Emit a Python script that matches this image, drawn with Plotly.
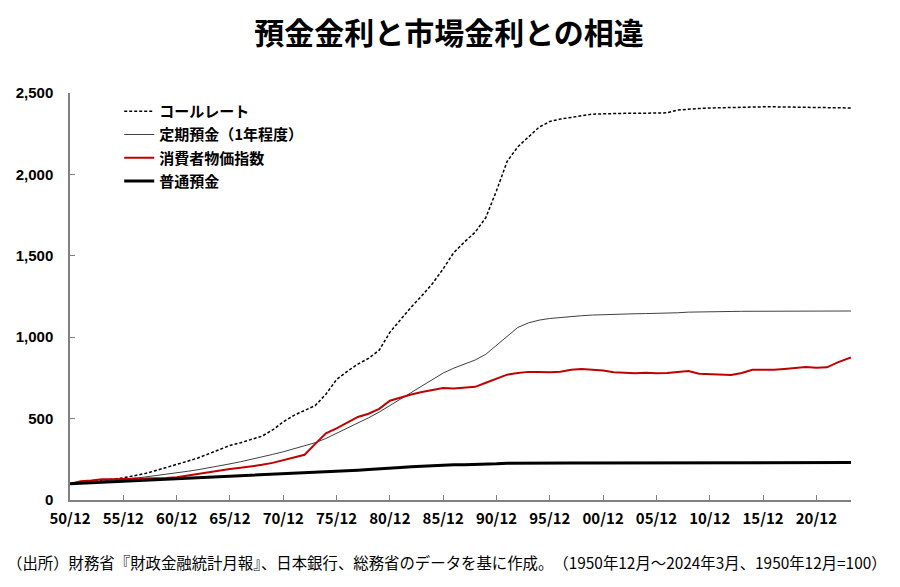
import plotly.graph_objects as go

dates = [f"{y}-12-01" for y in range(1950, 2024)] + ["2024-03-01"]

call_rate = [100, 106, 113, 120, 128, 136, 148, 162, 180, 198,
             220, 238, 258, 282, 310, 335, 352, 370, 392, 430,
             480, 520, 548, 580, 650, 740, 790, 835, 870, 920,
             1030, 1110, 1185, 1255, 1330, 1420, 1520, 1585, 1645, 1735,
             1900, 2080, 2170, 2230, 2290, 2325, 2340, 2350, 2360, 2370,
             2372, 2375, 2375, 2375, 2375, 2375, 2378, 2395, 2402, 2405,
             2408, 2410, 2412, 2414, 2415, 2415, 2415, 2414, 2412, 2410,
             2410, 2409, 2408, 2408, 2408]

time_deposit = [100, 105, 110, 115, 120, 127, 134, 141, 149, 157,
                166, 176, 186, 197, 209, 222, 235, 249, 264, 280,
                296, 314, 332, 352, 378, 410, 440, 470, 505, 540,
                580, 615, 655, 695, 740, 780, 810, 835, 860, 895,
                950, 1010, 1060, 1088, 1105, 1115, 1122, 1128, 1132, 1136,
                1139, 1141, 1143, 1144, 1145, 1146, 1147, 1150, 1154, 1156,
                1157, 1158, 1158, 1159, 1159, 1160, 1160, 1160, 1160, 1161,
                1161, 1161, 1161, 1161, 1161]

cpi = [100, 116, 120, 128, 128, 127, 130, 132, 132, 135,
       140, 150, 162, 174, 180, 190, 198, 206, 216, 228,
       245, 260, 278, 345, 410, 440, 475, 510, 530, 560,
       610, 630, 648, 663, 675, 688, 685, 688, 695, 720,
       745, 770, 780, 787, 787, 785, 788, 800, 805, 800,
       795, 785, 780, 778, 782, 778, 780, 785, 792, 775,
       772, 770, 768, 780, 800, 800, 800, 805, 812, 817,
       812, 815, 845, 868, 875]

ordinary = [100, 103, 106, 109, 112, 115, 118, 121, 124, 127,
            129, 132, 135, 138, 142, 145, 148, 150, 153, 155,
            158, 161, 164, 167, 171, 175, 179, 183, 187, 190,
            195, 200, 204, 208, 212, 215, 216, 217, 218, 219,
            222, 226, 227, 227, 228, 228, 228, 228, 228, 228,
            228, 228, 228, 228, 228, 228, 228, 229, 230, 230,
            230, 230, 230, 230, 230, 230, 230, 230, 230, 230,
            230, 230, 230, 230, 230]

tick_dates = [f"{y}-12-01" for y in range(1950, 2021, 5)]
y_ticks = [0, 500, 1000, 1500, 2000, 2500]

names = ["コールレート", "定期預金（1年程度）", "消費者物価指数", "普通預金"]
footer = "（出所）財務省『財政金融統計月報』、日本銀行、総務省のデータを基に作成。　（1950年12月～2024年3月、1950年12月=100）"

# page has an 8px body margin; figure sized to fit the window
W, H = 892, 579
L, R, T, B = 62, 49, 85, 87
plot_h = H - T - B
plot_w = W - L - R

fig = go.Figure()
styles = [
    dict(color="#000000", width=1.5, dash="3px,2px"),
    dict(color="#404040", width=1),
    dict(color="#c00000", width=2),
    dict(color="#000000", width=3),
]
for name, vals, st in zip(names, [call_rate, time_deposit, cpi, ordinary], styles):
    fig.add_trace(go.Scatter(x=dates, y=vals, name=f"<b>{name}</b>", mode="lines",
                             legendgroup=name, line=st))

fig.update_layout(
    width=W, height=H,
    margin=dict(l=L, r=R, t=T, b=B, autoexpand=False),
    paper_bgcolor="white", plot_bgcolor="white",
    font=dict(family="Noto Sans CJK JP", color="#000000"),
    title=dict(text="<b>預金金利と市場金利との相違</b>", x=(449 - 8) / W, xanchor="center",
               y=1 - 25 / H, yanchor="middle",
               font=dict(size=30, family="Noto Sans CJK JP", color="#000000")),
    showlegend=True,
    legend=dict(x=0.063, y=0.995, xanchor="left", yanchor="top",
                bgcolor="rgba(0,0,0,0)",
                font=dict(size=15, family="Noto Sans CJK JP", color="#000000"),
                tracegroupgap=0.7),
    xaxis=dict(type="date", range=["1950-12-01", "2024-03-01"],
               tickvals=tick_dates, tickformat="%y/%m",
               showgrid=False, zeroline=False,
               showline=True, linecolor="#808080", linewidth=1.5,
               ticks="inside", ticklen=5, tickcolor="#808080",
               ticklabelstandoff=4,
               tickfont=dict(size=15, family="Noto Sans CJK JP", color="#000000", weight="bold")),
    yaxis=dict(range=[0, 2500], tickvals=y_ticks, tickformat=",",
               showgrid=False, zeroline=False,
               showline=True, linecolor="#808080", linewidth=1.5,
               ticks="inside", ticklen=5, tickcolor="#808080",
               ticklabelstandoff=12,
               tickfont=dict(size=15, family="Liberation Sans", color="#000000", weight="bold")),
)

fig.add_annotation(text=footer,
                   xref="paper", yref="paper",
                   x=(-3 - L) / plot_w, y=-(554 - (H - B)) / plot_h,
                   xanchor="left", yanchor="middle", showarrow=False,
                   font=dict(size=15.4, family="Noto Sans CJK JP", color="#000000"))

fig.write_html("out.html")
